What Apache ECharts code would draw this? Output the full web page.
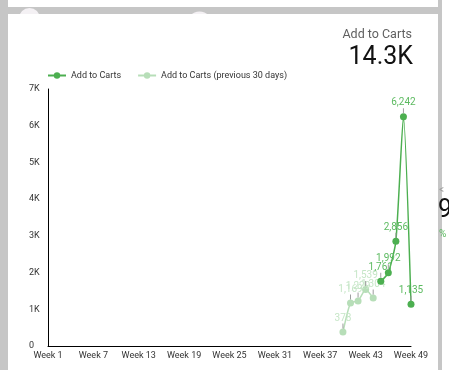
<!DOCTYPE html>
<html>
<head>
<meta charset="utf-8">
<script src="https://cdn.jsdelivr.net/npm/echarts@6/dist/echarts.min.js"></script>
<style>
  html, body { margin: 0; padding: 0; background: #ffffff; }
  #chart { width: 449px; height: 370px; }
</style>
</head>
<body>
<div id="chart"></div>
<script>
// Weekly categories along the x axis
const weeks = [];
for (let w = 1; w <= 49; w++) weeks.push('Week ' + w);

// Add to Carts, current period
const currentWeeks = ['Week 45', 'Week 46', 'Week 47', 'Week 48', 'Week 49'];
const currentValues = [1761, 1992, 2856, 6242, 1135];

// Add to Carts, previous 30 days
const previousWeeks = ['Week 40', 'Week 41', 'Week 42', 'Week 43', 'Week 44'];
const previousValues = [378, 1169, 1229, 1539, 1304];

// Scorecard
const scoreTitle = 'Add to Carts';
const scoreValue = '14.3K';

const GREEN = '#4caf50';
const GREEN_TEXT = '#5cba60';
const LIGHT = '#b7deb8';
const LIGHT_TEXT = '#c6e6c7';
const FRAME = '#c6c6c6';
const FONT = 'Roboto, "Noto Sans", sans-serif';

function fmt(v) {
  return v.toLocaleString('en-US');
}

function pointLabel(color) {
  return {
    show: true,
    position: 'top',
    distance: 0,
    align: 'center',
    formatter: p => '{v|' + fmt(p.value[1]) + '}\n{t|}',
    rich: {
      v: { color: color, fontSize: 10, fontFamily: FONT, lineHeight: 11, align: 'center' },
      t: { width: 1, height: 5, backgroundColor: '#9e9e9e', align: 'center' }
    }
  };
}

const chart = echarts.init(document.getElementById('chart'), null, { renderer: 'canvas' });

chart.setOption({
  backgroundColor: '#ffffff',
  animation: false,
  textStyle: { fontFamily: FONT },
  grid: { left: 48, right: 38, top: 89, bottom: 24, containLabel: false },
  legend: {
    left: 42,
    top: 66,
    itemWidth: 18,
    itemHeight: 8,
    itemGap: 16,
    textStyle: { fontSize: 9, color: '#333333', fontFamily: FONT },
    data: ['Add to Carts', 'Add to Carts (previous 30 days)']
  },
  xAxis: {
    type: 'category',
    data: weeks,
    boundaryGap: false,
    axisLine: { show: true, lineStyle: { color: '#000000', width: 1 } },
    axisTick: { show: false },
    splitLine: { show: false },
    axisLabel: { interval: 5, fontSize: 9, color: '#333333', margin: 5, fontFamily: FONT }
  },
  yAxis: {
    type: 'value',
    min: 0,
    max: 7000,
    interval: 1000,
    axisLine: { show: true, lineStyle: { color: '#000000', width: 1 } },
    axisTick: { show: false },
    splitLine: { show: false },
    axisLabel: {
      align: 'left',
      margin: 19,
      fontSize: 9,
      color: '#333333',
      fontFamily: FONT,
      formatter: v => (v === 0 ? '0' : v / 1000 + 'K')
    }
  },
  series: [
    {
      name: 'Add to Carts',
      type: 'line',
      smooth: 0.2,
      symbol: 'circle',
      symbolSize: 7,
      showSymbol: true,
      showAllSymbol: true,
      z: 3,
      itemStyle: { color: GREEN },
      lineStyle: { color: GREEN, width: 1.5 },
      label: pointLabel(GREEN_TEXT),
      data: currentWeeks.map((w, i) => [w, currentValues[i]])
    },
    {
      name: 'Add to Carts (previous 30 days)',
      type: 'line',
      smooth: 0.2,
      symbol: 'circle',
      symbolSize: 7,
      showSymbol: true,
      showAllSymbol: true,
      z: 2,
      itemStyle: { color: LIGHT },
      lineStyle: { color: LIGHT, width: 1.5 },
      label: pointLabel(LIGHT_TEXT),
      data: previousWeeks.map((w, i) => [w, previousValues[i]])
    }
  ],
  graphic: [
    // card frame
    { type: 'rect', z: 5, shape: { x: 0, y: 0, width: 8, height: 370 }, style: { fill: FRAME } },
    { type: 'rect', z: 5, shape: { x: 8, y: 7, width: 431, height: 7 }, style: { fill: FRAME } },
    { type: 'rect', z: 5, shape: { x: 438, y: 0, width: 4, height: 370 }, style: { fill: FRAME } },
    { type: 'circle', z: 6, shape: { cx: 29.5, cy: 18.5, r: 10.5 }, style: { fill: '#f4f1f4' } },
    { type: 'circle', z: 6, shape: { cx: 199.5, cy: 24.5, r: 13 }, style: { fill: '#f4f1f4' } },
    { type: 'rect', z: 7, shape: { x: 8, y: 14, width: 230, height: 26 }, style: { fill: '#ffffff' } },
    // neighbouring card peeking in on the right
    { type: 'text', z: 8, style: { x: 439, y: 190, text: '<', fill: '#9e9e9e', fontSize: 10, fontFamily: FONT, textVerticalAlign: 'middle' } },
    { type: 'text', z: 8, style: { x: 438, y: 211, text: '9', fill: '#111111', fontSize: 25, fontFamily: FONT, textVerticalAlign: 'middle' } },
    { type: 'text', z: 8, style: { x: 439, y: 234, text: '%', fill: GREEN_TEXT, fontSize: 10, fontFamily: FONT, textVerticalAlign: 'middle' } },
    // scorecard
    { type: 'text', z: 7, style: { x: 412, y: 35, text: scoreTitle, fill: '#5f5f5f', fontSize: 12.5, fontFamily: FONT, textAlign: 'right', textVerticalAlign: 'middle' } },
    { type: 'text', z: 7, style: { x: 413, y: 58, text: scoreValue, fill: '#111111', fontSize: 25, fontFamily: FONT, textAlign: 'right', textVerticalAlign: 'middle' } }
  ]
});
</script>
</body>
</html>
